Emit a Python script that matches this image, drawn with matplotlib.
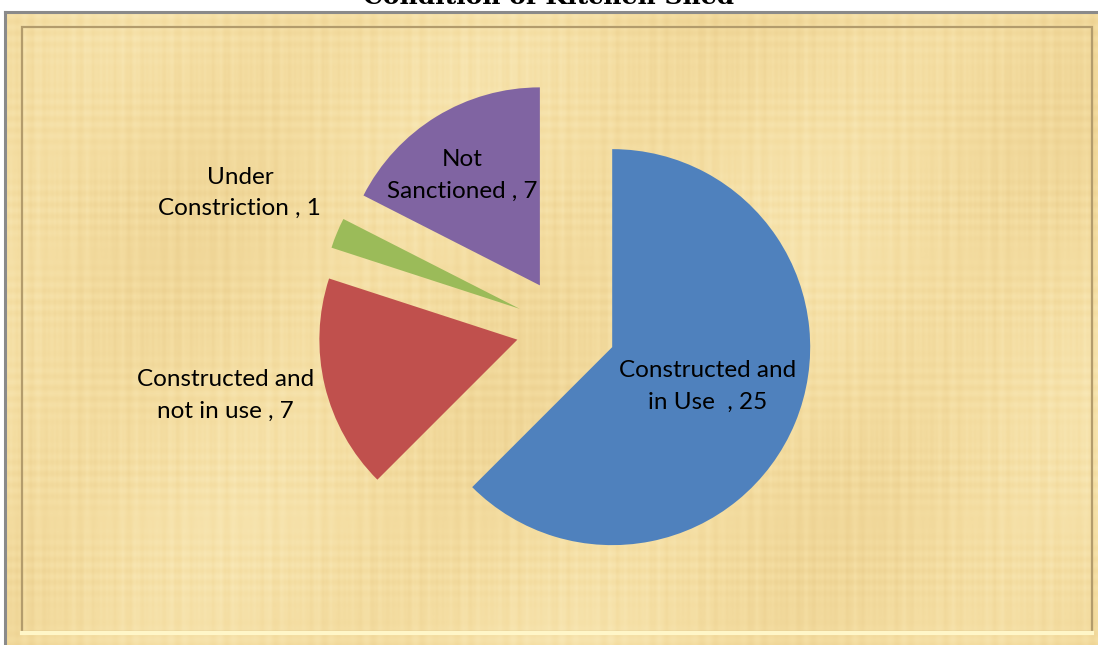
import numpy as np
import matplotlib.pyplot as plt
from matplotlib.patches import Rectangle
from matplotlib.colors import LinearSegmentedColormap

W, H = 1098, 645

title = 'Condition of Kitchen Shed'
labels = ['Constructed and\nin Use  ', 'Constructed and\nnot in use ',
          'Under\nConstriction ', 'Not\nSanctioned ']
values = [25, 7, 1, 7]
colors = ['#4F81BD', '#C0504D', '#9BBB59', '#8064A2']
# label placement: distance (in radii) and angle nudge (deg) from wedge middle
label_dist = [0.52, 1.5, 1.53, 0.68]
label_nudge = [0, -2.7, 0.0, 3.8]

fig = plt.figure(figsize=(W / 100, H / 100), dpi=100)
ax = fig.add_axes([0, 0, 1, 1])

# parchment-like panel texture
yy, xx = np.mgrid[0:316, 0:546]
tex = (0.5 + 0.10 * np.sin(xx * 0.9) * np.sin(xx * 0.13)
       + 0.09 * np.sin(yy * 1.1) * np.sin(yy * 0.07 + 1.0)
       + 0.06 * np.sin(xx * 2.3) * np.sin(yy * 0.05)
       + 0.10 * np.sin(xx * 0.031 + yy * 0.017)
       + 0.07 * np.sin(xx * 0.011 - yy * 0.023))
cmap = LinearSegmentedColormap.from_list('paper', ['#EBCF8E', '#F4DDA1', '#F9E9B8'])
ax.imshow(tex, cmap=cmap, extent=(6, W, 0, H - 12), aspect='auto',
          interpolation='bilinear', zorder=-3)

# frame lines
ax.plot([5, W], [H - 12, H - 12], color='#8a8a8a', lw=2.2, zorder=-1)
ax.plot([5, 5], [0, H - 12], color='#8a8a8a', lw=2.2, zorder=-1)
ax.add_patch(Rectangle((22, 13), 1070, H - 27 - 13, fill=False,
                       ec='#b39c6c', lw=1.6, zorder=-1))
ax.plot([22, 1092], [12, 12], color='#fff6c8', lw=3, zorder=-1)

wedges, _ = ax.pie(values, colors=colors, startangle=90, counterclock=False,
                   explode=[50] * len(values), radius=198,
                   center=(566, H - 328), wedgeprops=dict(linewidth=0))

for w, lab, v, d, nd in zip(wedges, labels, values, label_dist, label_nudge):
    ang = np.deg2rad((w.theta1 + w.theta2) / 2 + nd)
    cx, cy = w.center
    ax.text(cx + d * w.r * np.cos(ang), cy + d * w.r * np.sin(ang),
            f'{lab}, {v}', ha='center', va='center', fontsize=17.5,
            family='Lato', linespacing=1.62, color='black')

ax.set_xlim(0, W)
ax.set_ylim(0, H)
ax.set_aspect('auto')
ax.axis('off')

fig.text(0.5, 1 - 4 / H, title, ha='center', va='baseline', fontsize=18,
         family='DejaVu Serif', weight='bold')

fig.savefig('out.png', dpi=100)
